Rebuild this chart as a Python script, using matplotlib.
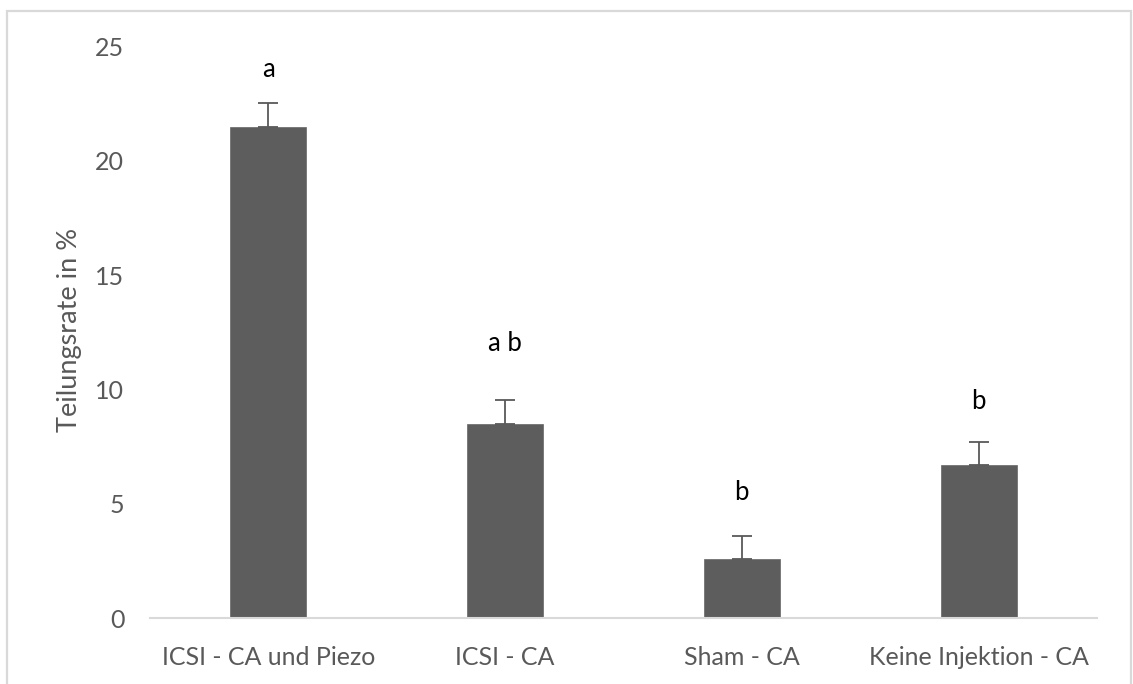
import matplotlib
matplotlib.use("Agg")
import matplotlib.pyplot as plt
from matplotlib.patches import Rectangle

categories = ["ICSI - CA und Piezo", "ICSI - CA", "Sham - CA", "Keine Injektion - CA"]
values = [21.5, 8.5, 2.6, 6.7]
errors = [1.05, 1.05, 1.0, 1.0]
letters = ["a", "a b", "b", "b"]
letter_y = [24.0, 12.0, 5.5, 9.45]
yticks = [0, 5, 10, 15, 20, 25]

W, H = 1133, 684
fig = plt.figure(figsize=(W / 100, H / 100), dpi=100)
fig.patch.set_facecolor("white")
font = ["Lato", "DejaVu Sans"]
gray_txt = "#595959"

ax = fig.add_axes([150 / W, 1 - 618 / H, (1097 - 150) / W, (618 - 46.5) / H])
x = list(range(len(categories)))
ax.bar(x, values, width=0.32, color="#5d5d5d", edgecolor="#666666", linewidth=0.5, zorder=2)
ax.errorbar(x, values, yerr=[[0] * len(errors), errors], fmt="none", ecolor="#595959",
            elinewidth=1.3, capsize=7, capthick=1.3, zorder=3)
for xi, t, ly in zip(x, letters, letter_y):
    ax.text(xi, ly, t, ha="center", va="center", fontsize=18.5, color="black", family=font)

ax.set_xlim(-0.5, len(categories) - 0.5)
ax.set_ylim(0, 25)
ax.set_yticks(yticks)
ax.set_yticklabels([str(v) for v in yticks], family=font, fontsize=18, color=gray_txt)
ax.set_xticks(x)
ax.set_xticklabels(categories, family=font, fontsize=18, color=gray_txt)
ax.tick_params(axis="y", length=0, pad=18.5)
ax.tick_params(axis="x", length=0, pad=20)
for s in ["top", "right", "left"]:
    ax.spines[s].set_visible(False)
ax.spines["bottom"].set_color("#d9d9d9")
ax.spines["bottom"].set_linewidth(1.5)

fig.text(70 / W, 1 - 330 / H, "Teilungsrate in %", rotation=90, ha="center", va="center",
         fontsize=19.5, color=gray_txt, family=font)

fig.patches.append(Rectangle((7 / W, -0.05), (1131 - 7) / W, 1 - 11 / H + 0.05,
                             transform=fig.transFigure, fill=False, edgecolor="#d9d9d9",
                             linewidth=1.6, figure=fig))

fig.savefig("out.png", dpi=100)
